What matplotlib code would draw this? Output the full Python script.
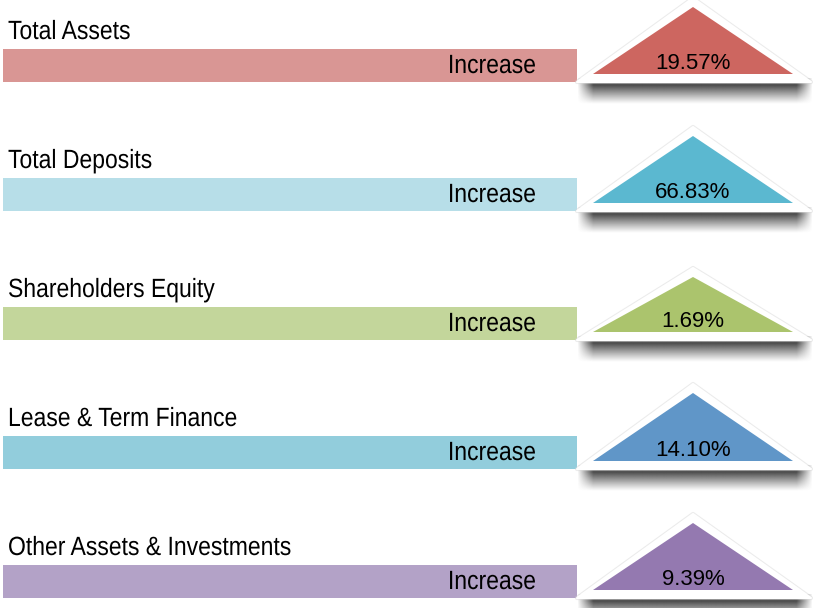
"""Year-on-year increase panel: labelled bars with percentage triangles."""

import matplotlib

matplotlib.use("Agg")
import matplotlib.pyplot as plt
import numpy as np
from matplotlib.patches import Polygon
from matplotlib.patheffects import AbstractPathEffect
from matplotlib.transforms import Affine2D

# --- data -------------------------------------------------------------
categories = [
    "Total Assets",
    "Total Deposits",
    "Shareholders Equity",
    "Lease & Term Finance",
    "Other Assets & Investments",
]
changes = ["Increase", "Increase", "Increase", "Increase", "Increase"]
percent_values = [19.57, 66.83, 1.69, 14.10, 9.39]

# --- style ------------------------------------------------------------
bar_colors = ["#D99694", "#B7DEE8", "#C3D69B", "#92CDDC", "#B3A2C7"]
tri_colors = ["#CD6660", "#5BB8D0", "#ABC46D", "#6096C8", "#9479B0"]
tri_heights = [67, 67, 55, 68, 67]

REGULAR = ["Liberation Sans", "DejaVu Sans"]

W, H = 813, 608
ROW_STEP = 129
FIRST_TOP = 49
BAR_H = 33
BAR_LEFT, BAR_RIGHT = 3, 577
TRI_LEFT, TRI_RIGHT = 593, 793


class Squeeze(AbstractPathEffect):
    """Narrow the glyphs horizontally around an anchor (no condensed font here)."""

    def __init__(self, sx, x0):
        super().__init__()
        self.sx = sx
        self.x0 = x0

    def draw_path(self, renderer, gc, tpath, affine, rgbFace=None):
        squeeze = Affine2D().translate(-self.x0, 0).scale(self.sx, 1).translate(self.x0, 0)
        renderer.draw_path(gc, tpath, affine + squeeze, rgbFace)


def narrow_text(ax, x, y, s, ha, **kw):
    return ax.text(x, y, s, ha=ha, va="baseline", fontsize=19, family=REGULAR,
                   color="black", path_effects=[Squeeze(0.87, x)], **kw)


def draw_shadow(ax, base):
    x0, x1 = 577, 813
    y0, y1 = base + 4, base + 30
    ny, nx = 80, 240
    yy = np.linspace(y0, y1, ny)
    xx = np.linspace(x0, x1, nx)
    fy = np.clip((y1 - yy) / (y1 - (base + 11)), 0, 1) ** 1.1
    fx = np.clip(np.minimum(xx - x0, x1 - xx) / 16, 0, 1)
    img = np.zeros((ny, nx, 4))
    img[..., :3] = 0.2
    img[..., 3] = 0.88 * np.outer(fy, fx)
    ax.imshow(img, extent=(x0, x1, y1, y0), interpolation="bilinear",
              aspect="auto", zorder=1)


def main():
    fig = plt.figure(figsize=(W / 100, H / 100), dpi=100)
    ax = fig.add_axes([0, 0, 1, 1])

    tops = [FIRST_TOP + i * ROW_STEP for i in range(len(categories))]
    centers = [t + BAR_H / 2 for t in tops]

    ax.barh(centers, BAR_RIGHT - BAR_LEFT, left=BAR_LEFT, height=BAR_H,
            color=bar_colors, linewidth=0, zorder=2)

    for i, (name, change, value) in enumerate(zip(categories, changes, percent_values)):
        top = tops[i]
        narrow_text(ax, 8, top - 10, name, "left")
        narrow_text(ax, 536, top + 24, change, "right", zorder=3)

        base = top + 25
        apex = base - tri_heights[i]
        mid = (TRI_LEFT + TRI_RIGHT) / 2
        pts = [(TRI_LEFT, base), (mid, apex), (TRI_RIGHT, base)]
        outer = [(TRI_LEFT - 16, base + 8), (mid, apex - 9), (TRI_RIGHT + 18, base + 8)]

        draw_shadow(ax, base)
        ax.add_patch(Polygon(outer, closed=True, facecolor="white", edgecolor="#d8d8d8",
                             linewidth=3, joinstyle="round", alpha=0.5, zorder=3))
        ax.add_patch(Polygon(outer, closed=True, facecolor="white", edgecolor="white",
                             linewidth=1.5, joinstyle="round", zorder=4))
        ax.add_patch(Polygon(pts, closed=True, facecolor=tri_colors[i],
                             edgecolor="none", zorder=5))
        ax.text(mid, base - 5, f"{value:.2f}%", fontsize=16, family=REGULAR,
                ha="center", va="baseline", color="black", zorder=6)

    ax.set_xlim(0, W)
    ax.set_ylim(H, 0)
    ax.axis("off")
    fig.savefig("out.png", dpi=100, facecolor="white")
    plt.close(fig)


if __name__ == "__main__":
    main()
